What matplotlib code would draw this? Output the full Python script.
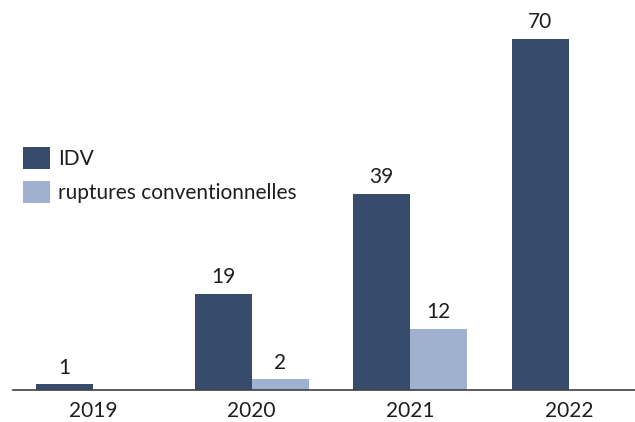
import matplotlib
matplotlib.use("Agg")
import matplotlib.pyplot as plt
import numpy as np

years = ["2019", "2020", "2021", "2022"]
idv = [1, 19, 39, 70]
ruptures = [None, 2, 12, None]
series_names = ["IDV", "ruptures conventionnelles"]

dark = "#374C6C"
light = "#9FB1CF"
text_color = "#1E1E1E"

plt.rcParams["font.family"] = ["Lato", "DejaVu Sans"]

fig = plt.figure(figsize=(6.35, 4.22), dpi=100)
ax = fig.add_axes([13 / 635, 0.077, 1 - 13 / 635, 0.8905])

x = np.arange(len(years))
w = 0.36
fs = 15

bars_idv = ax.bar(x - w / 2, idv, width=w, color=dark, label=series_names[0])
rc_x = [xi + w / 2 for xi, v in zip(x, ruptures) if v is not None]
rc_v = [v for v in ruptures if v is not None]
bars_rc = ax.bar(rc_x, rc_v, width=w, color=light, label=series_names[1])

for bx, v in zip(x - w / 2, idv):
    ax.annotate(str(v), (bx, v), xytext=(0, 5), textcoords="offset points",
                ha="center", va="bottom", fontsize=fs, color=text_color)
for bx, v in zip(rc_x, rc_v):
    ax.annotate(str(v), (bx, v), xytext=(0, 5), textcoords="offset points",
                ha="center", va="bottom", fontsize=fs, color=text_color)

ax.set_xlim(-0.504, 3.416)
ax.set_ylim(0, 75)
ax.set_xticks(x)
ax.set_xticklabels(years, fontsize=fs, color=text_color)
ax.tick_params(axis="x", length=0, pad=8)
ax.set_yticks([])
for side in ["left", "right", "top"]:
    ax.spines[side].set_visible(False)
ax.spines["bottom"].set_color("#404040")
ax.spines["bottom"].set_linewidth(1.2)

leg = fig.legend(handles=[bars_idv, bars_rc], labels=series_names,
                 loc="upper left", bbox_to_anchor=(16 / 635 - 0.012, 1 - 132 / 422),
                 frameon=False, fontsize=fs, handlelength=1.3, handleheight=1.3,
                 handletextpad=0.4, labelspacing=0.55, borderpad=0.2)
for t in leg.get_texts():
    t.set_color(text_color)

fig.savefig("out.png", dpi=100)
